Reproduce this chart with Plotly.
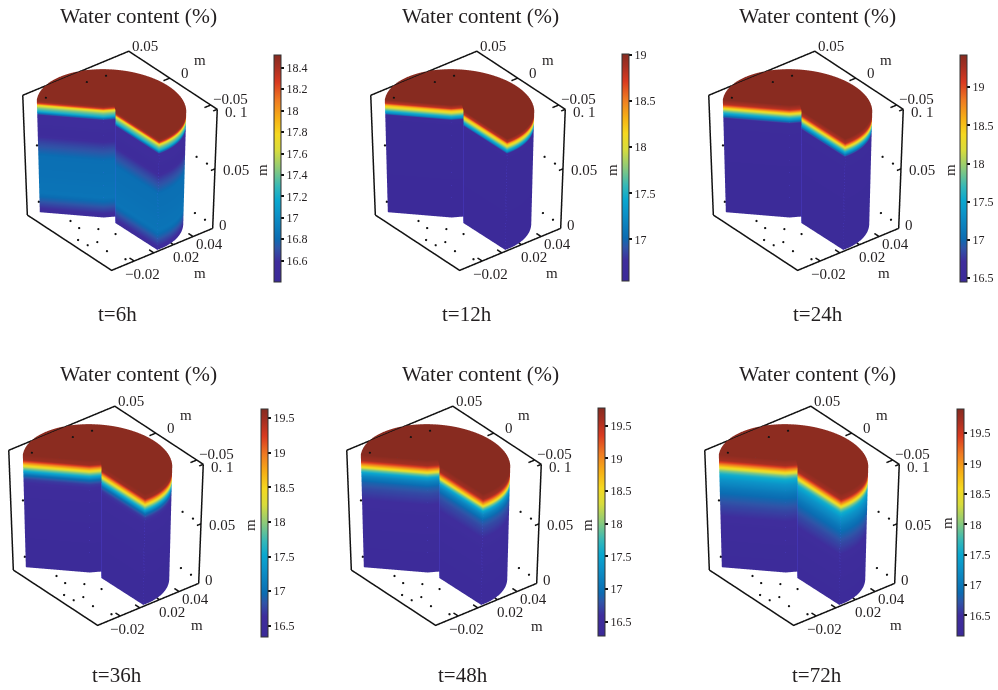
import numpy as np
import plotly.graph_objects as go

W, H = 998, 690
FONT = "Liberation Serif"
TITLE = "Water content (%)"
time_labels = ["t=6h", "t=12h", "t=24h", "t=36h", "t=48h", "t=72h"]

depth_levels = [
    [0.1, 0.098, 0.0964, 0.0947, 0.0926, 0.0896, 0.0866, 0.07, 0.0614, 0.05, 0.017, 0.011, 0.0036, 0.0],
    [0.1, 0.097, 0.095, 0.093, 0.0905, 0.088, 0.0865, 0.08, 0.0],
    [0.1, 0.096, 0.094, 0.092, 0.09, 0.087, 0.085, 0.083, 0.0],
    [0.1, 0.0955, 0.093, 0.09, 0.088, 0.085, 0.082, 0.078, 0.07, 0.0],
    [0.1, 0.095, 0.092, 0.089, 0.087, 0.084, 0.081, 0.076, 0.07, 0.06, 0.04, 0.0],
    [0.1, 0.095, 0.0915, 0.0885, 0.086, 0.083, 0.078, 0.07, 0.065, 0.055, 0.045, 0.03, 0.0],
]
water_content = [
    [18.5, 18.45, 18.2, 17.7, 17.45, 17.2, 16.6, 16.55, 16.68, 16.82, 16.85, 16.75, 16.6, 16.5],
    [19.0, 18.8, 18.3, 18.0, 17.6, 17.2, 16.7, 16.6, 16.58],
    [19.4, 19.2, 18.8, 18.3, 17.9, 17.4, 17.0, 16.6, 16.5],
    [19.6, 19.5, 19.0, 18.4, 18.0, 17.5, 17.0, 16.7, 16.55, 16.4],
    [19.75, 19.6, 19.1, 18.5, 18.0, 17.5, 17.2, 16.9, 16.75, 16.6, 16.5, 16.4],
    [19.85, 19.7, 19.1, 18.5, 18.0, 17.6, 17.3, 17.0, 16.85, 16.65, 16.5, 16.4, 16.3],
]
color_min = [16.40, 16.55, 16.45, 16.34, 16.28, 16.16]
color_max = [18.52, 19.01, 19.42, 19.63, 19.77, 19.90]
bar_ticks = [
    [16.6, 16.8, 17, 17.2, 17.4, 17.6, 17.8, 18, 18.2, 18.4],
    [17, 17.5, 18, 18.5, 19],
    [16.5, 17, 17.5, 18, 18.5, 19],
    [16.5, 17, 17.5, 18, 18.5, 19, 19.5],
    [16.5, 17, 17.5, 18, 18.5, 19, 19.5],
    [16.5, 17, 17.5, 18, 18.5, 19, 19.5],
]
x_ticks = [-0.02, 0.0, 0.02, 0.04]
y_ticks = [-0.05, 0.0, 0.05]
z_ticks = [0.0, 0.05, 0.1]
floor_dot_x = [-0.0217, -0.023, -0.012, -0.035, -0.025, -0.006, -0.034, -0.0276, -0.0237]
floor_dot_y = [0.0215, 0.0087, -0.002, -0.005, -0.017, -0.0165, -0.016, -0.0327, -0.0515]
wall_dot_y = [-0.048, -0.035]
wall_dot_z = [0.05, 0.003]
back_dot_x = [-0.031]
back_dot_z = [0.054, 0.007]
top_dot_x = [0.0065, 0.024, -0.033]
top_dot_y = [0.035, 0.033, 0.0365]

COLORSCALE = [
    [0.00, "#3b2a98"], [0.09, "#3f2d9c"], [0.15, "#2f55a8"], [0.19, "#0b6cb2"],
    [0.30, "#0c93c8"], [0.36, "#0aa8cf"], [0.42, "#35b8b8"], [0.50, "#8cca7a"],
    [0.58, "#d8dc3c"], [0.65, "#f5d820"], [0.72, "#f6b015"], [0.80, "#ef7b22"],
    [0.88, "#d93a20"], [0.95, "#a52f22"], [1.00, "#862b20"],
]

# page placement of each panel relative to the first
panel_dx = [0, 348, 686, -14, 324, 682]
panel_dy = [0, 0, 0, 355, 355, 355]
bar_left = [273.5, 621.7, 959.7, 261, 597.7, 957]
bar_top = [55, 54, 55, 409, 408, 409]
bar_bottom = [282, 281, 282, 637, 636, 636]
bar_label_xy = [(262, 170), (612, 170), (950, 170), (250, 525), (587, 525), (947, 523)]
title_xy = [(138, 16), (480, 16), (817, 16), (138, 374), (480, 374), (817, 374)]
time_xy = [(117, 314), (467, 314), (818, 314), (117, 675), (463, 675), (817, 675)]
x_name_xy = [(200, 273), (552, 273), (884, 273), (197, 625), (537, 626), (896, 625)]
axis_text = [("0.05", 145, 46), ("m", 200, 60), ("0", 185, 73), ("\u22120.05", 230, 99),
             ("0. 1", 236, 112), ("0.05", 236, 170), ("0", 223, 225), ("0.04", 209, 244),
             ("0.02", 186, 257), ("\u22120.02", 142, 274)]

# scene geometry
XR, YR, ZR = (-0.043, 0.06), (-0.058, 0.05), (0.0, 0.1)
FX, FY = 0.0085, -0.004
TAPER = 0.048
CYL_TAPER = 0.04
CYL_BASE, CYL_SPAN = 0.006, 0.94
SCENE_W, SCENE_H = 208, 250
SCENE_CX, SCENE_CY = 120, 162
EYE_DIST = 4.0
ZOOM = 1.85
EL, AZ = np.radians(31.5), np.radians(38.5)
EYE = dict(x=-EYE_DIST * np.cos(EL) * np.sin(AZ), y=-EYE_DIST * np.cos(EL) * np.cos(AZ), z=EYE_DIST * np.sin(EL))

# the cut cylinder's plan is set out as seen from the camera, then taken back to metres
VIEW = np.array([[1049.0, -796.0], [-398.0, -509.0]])
VIEW_ORIGIN = np.array([23.0, 92.0])
VIEW_INV = np.linalg.inv(VIEW)


def plan(sx, sy):
    d = np.vstack([np.asarray(sx, float) - VIEW_ORIGIN[0], np.asarray(sy, float) - VIEW_ORIGIN[1]])
    m = VIEW_INV @ d
    return XR[0] + m[0], YR[1] + m[1]


arc = np.radians(np.linspace(51.6, -174, 90))
ring_sx = 111 + 76.5 * np.cos(arc)
ring_sy = 103.6 + 36.4 * np.sin(arc) + 3.7 * np.cos(arc)
notch_sx = [102.7, 115.1, 115.1]
notch_sy = [101.7, 100.8, 107.3]
px, py = plan(np.r_[ring_sx, notch_sx, ring_sx[0]], np.r_[ring_sy, notch_sy, ring_sy[0]])
hub_x, hub_y = plan([111], [90])
hub_x, hub_y = float(hub_x[0]), float(hub_y[0])
axis_x, axis_y = plan([111], [103.6])
axis_x, axis_y = float(axis_x[0]), float(axis_y[0])
edge_index = [0, 90, 91, 92]


def taper(z):
    return 1 + TAPER * (np.asarray(z, dtype=float) - 0.05) / 0.1


def squeeze(x, y, z):
    s = taper(z)
    return FX + (np.asarray(x) - FX) * s, FY + (np.asarray(y) - FY) * s, z


fig = go.Figure()
annotations = []
layout = {}


def note(text, x, y, size, angle=0):
    annotations.append(dict(text=text, x=x / W, y=1 - y / H, xref="paper", yref="paper", showarrow=False,
                            xanchor="center", yanchor="middle", textangle=angle,
                            font=dict(family=FONT, size=size, color="#231f20")))


LIGHT = dict(ambient=1, diffuse=0, specular=0, roughness=1, fresnel=0)
for i in range(6):
    name = "scene" if i == 0 else f"scene{i + 1}"
    zs = np.array(depth_levels[i])
    vals = np.array(water_content[i])
    shrink = (1 - CYL_TAPER * (1 - zs / 0.1))[:, None]
    X = axis_x + np.outer(np.ones(len(zs)), px - axis_x) * shrink
    Y = axis_y + np.outer(np.ones(len(zs)), py - axis_y) * shrink
    Z = np.tile((CYL_BASE + CYL_SPAN * zs)[:, None], (1, len(px)))
    C = np.tile(vals[:, None], (1, len(px)))
    fig.add_trace(go.Surface(
        x=X, y=Y, z=Z, surfacecolor=C, cmin=color_min[i], cmax=color_max[i], colorscale=COLORSCALE,
        scene=name, lighting=LIGHT, hoverinfo="skip", showscale=True,
        colorbar=dict(x=bar_left[i] / W, xanchor="left", xpad=0, ypad=0,
                      y=1 - bar_bottom[i] / H, yanchor="bottom", lenmode="pixels", len=bar_bottom[i] - bar_top[i],
                      thicknessmode="pixels", thickness=7, outlinewidth=1, outlinecolor="#333", borderwidth=0,
                      tickmode="array", tickvals=bar_ticks[i], ticktext=[f"{t:g}" for t in bar_ticks[i]],
                      ticks="outside", ticklen=3, tickwidth=1.5, tickcolor="#111",
                      tickfont=dict(family=FONT, size=12, color="#231f20"))))
    # top face
    fr = np.array([0.0, 0.5, 1.0])
    TX = hub_x + np.outer(fr, px - hub_x)
    TY = hub_y + np.outer(fr, py - hub_y)
    TZ = np.full_like(TX, CYL_BASE + CYL_SPAN * zs[0])
    fig.add_trace(go.Surface(
        x=TX, y=TY, z=TZ, surfacecolor=np.full_like(TX, vals[0]), cmin=color_min[i], cmax=color_max[i],
        colorscale=COLORSCALE, scene=name, lighting=LIGHT, hoverinfo="skip", showscale=False))
    # soft vertical creases where the faces of the cut meet
    ex, ey, ez = [], [], []
    for k in edge_index:
        ex += [X[5, k], X[-1, k], None]; ey += [Y[5, k], Y[-1, k], None]; ez += [Z[5, k], Z[-1, k], None]
    fig.add_trace(go.Scatter3d(x=ex, y=ey, z=ez, mode="lines", line=dict(color="rgba(30,30,90,0.3)", width=2),
                               scene=name, hoverinfo="skip", showlegend=False))
    # frame
    x0, x1 = XR
    y0, y1 = YR
    z0, z1 = ZR
    edges = [
        ([x0, x1, x1], [y1, y1, y0], [z1, z1, z1]),
        ([x1, x1], [y0, y0], [z1, z0]),
        ([x1, x0, x0], [y0, y0, y1], [z0, z0, z0]),
        ([x0, x0], [y1, y1], [z0, z1]),
    ]
    for ex, ey, ez in edges:
        a, b, c = squeeze(ex, ey, np.array(ez))
        fig.add_trace(go.Scatter3d(x=a, y=b, z=c, mode="lines", line=dict(color="#111", width=3),
                                   scene=name, hoverinfo="skip", showlegend=False))
    # ticks
    tx, ty, tz = [], [], []
    for t in x_ticks:
        tx += [t, t, None]; ty += [y0, y0 + 0.006, None]; tz += [z0, z0, None]
    for t in y_ticks:
        tx += [x1, x1 - 0.006, None]; ty += [t, t, None]; tz += [z1, z1, None]
    for t in z_ticks:
        tx += [x1, x1 - 0.004, None]; ty += [y0, y0, None]; tz += [t, t, None]
    s = [taper(v) if v is not None else None for v in tz]
    tx2 = [FX + (v - FX) * q if v is not None else None for v, q in zip(tx, s)]
    ty2 = [FY + (v - FY) * q if v is not None else None for v, q in zip(ty, s)]
    fig.add_trace(go.Scatter3d(x=tx2, y=ty2, z=tz, mode="lines", line=dict(color="#111", width=3),
                               scene=name, hoverinfo="skip", showlegend=False))
    # dotted grid
    gx, gy, gz = list(floor_dot_x), list(floor_dot_y), [z0] * len(floor_dot_x)
    for t in wall_dot_z:
        for u in wall_dot_y:
            gx.append(x1); gy.append(u); gz.append(t)
    for t in back_dot_z:
        for u in back_dot_x:
            gx.append(u); gy.append(y1); gz.append(t)
    a, b, c = squeeze(gx, gy, np.array(gz))
    a, b, c = list(a), list(b), list(c)
    a += top_dot_x; b += top_dot_y; c += [z1 + 0.0005] * len(top_dot_x)
    fig.add_trace(go.Scatter3d(x=a, y=b, z=c, mode="markers", marker=dict(size=1.3, color="#111"),
                               scene=name, hoverinfo="skip", showlegend=False))

    cx = SCENE_CX + panel_dx[i]
    cy = SCENE_CY + panel_dy[i]
    hidden = dict(visible=False, showgrid=False, zeroline=False, showticklabels=False, showspikes=False)
    layout[name] = dict(
        domain=dict(x=[max(0, (cx - SCENE_W / 2)) / W, min(W, cx + SCENE_W / 2) / W],
                    y=[1 - (cy + SCENE_H / 2) / H, 1 - (cy - SCENE_H / 2) / H]),
        xaxis=dict(range=[FX - 0.09, FX + 0.09], **hidden),
        yaxis=dict(range=[FY - 0.09, FY + 0.09], **hidden),
        zaxis=dict(range=[-0.04, 0.14], **hidden),
        aspectmode="manual", aspectratio=dict(x=ZOOM, y=ZOOM, z=1.09 * ZOOM),
        camera=dict(eye=EYE, center=dict(x=0, y=0, z=0), up=dict(x=0, y=0, z=1),
                    projection=dict(type="orthographic")),
        bgcolor="rgba(0,0,0,0)",
    )
    note(TITLE, *title_xy[i], 21.5)
    note(time_labels[i], *time_xy[i], 21)
    note("m", *bar_label_xy[i], 15, -90)
    note("m", *x_name_xy[i], 15)
    for text, ax, ay in axis_text:
        note(text, ax + panel_dx[i], ay + panel_dy[i], 15)

fig.update_layout(width=W, height=H, margin=dict(l=0, r=0, t=0, b=0), paper_bgcolor="white",
                  showlegend=False, annotations=annotations, **layout)
fig.write_html("out.html", post_script="document.body.style.margin='0';", config=dict(displayModeBar=False))
